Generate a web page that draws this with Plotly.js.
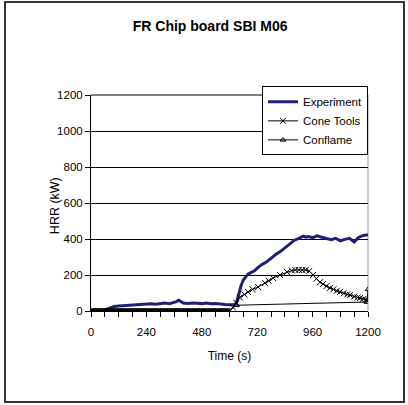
<!DOCTYPE html>
<html>
<head>
<meta charset="utf-8">
<script src="https://cdn.plot.ly/plotly-3.0.1.min.js"></script>
<style>
  html, body { margin: 0; padding: 0; background: #fff; }
  #wrap { position: relative; width: 408px; height: 405px; }
  #chart { position: absolute; left: 0; top: 0; width: 408px; height: 405px; }
  #frame { position: absolute; left: 4px; top: 1px; width: 397px; height: 398px;
           border: 2px solid #333; pointer-events: none; }
</style>
</head>
<body>
<div id="wrap"><div id="chart"></div><div id="frame"></div></div>
<script>
// ---- data ----
const expT = [0,20,40,60,80,100,120,140,160,180,200,220,240,260,280,300,320,340,360,370,380,390,400,420,440,460,480,500,520,540,560,580,600,620,630,640,650,660,670,680,690,700,710,720,740,760,780,800,820,840,860,880,900,920,930,940,960,980,1000,1020,1040,1060,1080,1100,1120,1140,1160,1180,1200];
const expV = [0,0,-2,6,16,25,28,30,32,33,35,37,39,40,38,42,44,41,46,52,60,50,44,42,45,43,41,44,40,42,38,36,35,36,45,95,140,172,190,205,212,220,225,238,258,272,294,314,330,350,372,392,404,416,410,414,408,418,410,402,396,404,390,398,404,384,410,420,424];

const coneT = [0,10,20,30,40,50,60,70,80,90,100,110,120,130,140,150,160,170,180,190,200,210,220,230,240,250,260,270,280,290,300,310,320,330,340,350,360,370,380,390,400,410,420,430,440,450,460,470,480,490,500,510,520,530,540,550,560,570,580,590,600,615,630,645,665,680,700,724,754,770,789,819,849,870,885,900,915,930,945,962,977,992,1005,1020,1035,1050,1065,1079,1095,1110,1122,1140,1155,1165,1180,1190,1200];
const coneV = [0,0,0,0,0,0,0,0,0,0,0,0,0,0,0,0,0,0,0,0,0,0,0,0,0,0,0,0,0,0,0,0,0,0,0,0,0,0,0,0,0,0,0,0,0,0,0,0,0,0,0,0,0,0,0,0,0,0,0,0,0,20,45,75,92,106,120,133,155,168,183,200,217,225,228,228,228,228,222,200,180,160,150,138,128,120,112,106,98,92,89,80,75,72,67,63,58];

const flameT = [5,15,25,35,45,55,65,75,85,95,105,115,125,135,145,155,165,175,185,195,205,215,225,235,245,255,265,275,285,295,305,315,325,335,345,355,365,375,385,395,405,415,425,435,445,455,465,475,485,495,505,515,525,535,545,555,565,575,585,595,630,1195,1200];
const flameV = [0,0,0,0,0,0,0,0,0,0,0,0,0,0,0,0,0,0,0,0,0,0,0,0,0,0,0,0,0,0,0,0,0,0,0,0,0,0,0,0,0,0,0,0,0,0,0,0,0,0,0,0,0,0,0,0,0,0,0,0,32,50,120];

const seriesNames = ["Experiment", "Cone Tools", "Conflame"];
const xTickVals = [0,240,480,720,960,1200];
const yTickVals = [0,200,400,600,800,1000,1200];

// ---- chart ----
const FONT = "Liberation Sans, Arial, sans-serif";
const traces = [
  { x: expT, y: expV, name: seriesNames[0], type: "scatter", mode: "lines",
    line: { color: "#1f1f78", width: 3 } },
  { x: coneT, y: coneV, name: seriesNames[1], type: "scatter", mode: "lines+markers",
    line: { color: "#000", width: 1 },
    marker: { symbol: "x-thin-open", size: 6, color: "#000", line: { color: "#000", width: 1 } } },
  { x: flameT, y: flameV, name: seriesNames[2], type: "scatter", mode: "lines+markers",
    line: { color: "#000", width: 1 },
    marker: { symbol: "triangle-up-open", size: 5, color: "#000", line: { color: "#000", width: 1 } } }
];

const layout = {
  width: 408, height: 405,
  margin: { l: 91, r: 40, t: 95, b: 94, pad: 0 },
  paper_bgcolor: "#fff", plot_bgcolor: "#fff",
  font: { family: FONT, size: 11, color: "#000" },
  title: { text: "<b>FR Chip board SBI M06</b>", font: { family: FONT, size: 14, color: "#000" },
           x: 0.515, xref: "container", xanchor: "center", y: 0.935, yref: "container", yanchor: "middle" },
  showlegend: true,
  legend: { x: 1, xanchor: "right", y: 1.04, yanchor: "top", bgcolor: "#fff",
            bordercolor: "#000", borderwidth: 1, font: { family: FONT, size: 11.5, color: "#000" },
            tracegroupgap: 0, itemwidth: 30 },
  xaxis: { range: [0, 1200], tickvals: xTickVals, ticktext: xTickVals.map(String),
           showgrid: false, zeroline: false, showline: true, linecolor: "#000", linewidth: 1,
           ticks: "outside", ticklen: 5, tickcolor: "#000", ticklabelstandoff: 5,
           minor: { dtick: 60, tick0: 0, ticks: "outside", ticklen: 5, tickcolor: "#000", showgrid: false },
           tickfont: { family: FONT, size: 11.5, color: "#000" },
           title: { text: "Time (s)", font: { family: FONT, size: 12, color: "#000" }, standoff: 14 } },
  yaxis: { range: [0, 1200], tickvals: yTickVals, ticktext: yTickVals.map(String),
           showgrid: true, gridcolor: "#000", gridwidth: 1, zeroline: false,
           showline: true, linecolor: "#000", linewidth: 1,
           ticks: "outside", ticklen: 5, tickcolor: "#000",
           tickfont: { family: FONT, size: 11.5, color: "#000" } },
  annotations: [
    { text: "HRR (kW)", xref: "paper", yref: "paper", x: -0.13, y: 0.49,
      xanchor: "center", yanchor: "middle", textangle: -90, showarrow: false,
      font: { family: FONT, size: 12.5, color: "#000" } }
  ],
  shapes: [
    { type: "line", xref: "paper", yref: "paper", x0: 1, x1: 1, y0: 0, y1: 1,
      line: { color: "#999", width: 1 }, layer: "below" },
    { type: "line", xref: "paper", yref: "paper", x0: 0, x1: 1, y0: 1, y1: 1,
      line: { color: "#000", width: 1 }, layer: "above" }
  ]
};

Plotly.newPlot("chart", traces, layout, { staticPlot: true, displayModeBar: false });
</script>
</body>
</html>
